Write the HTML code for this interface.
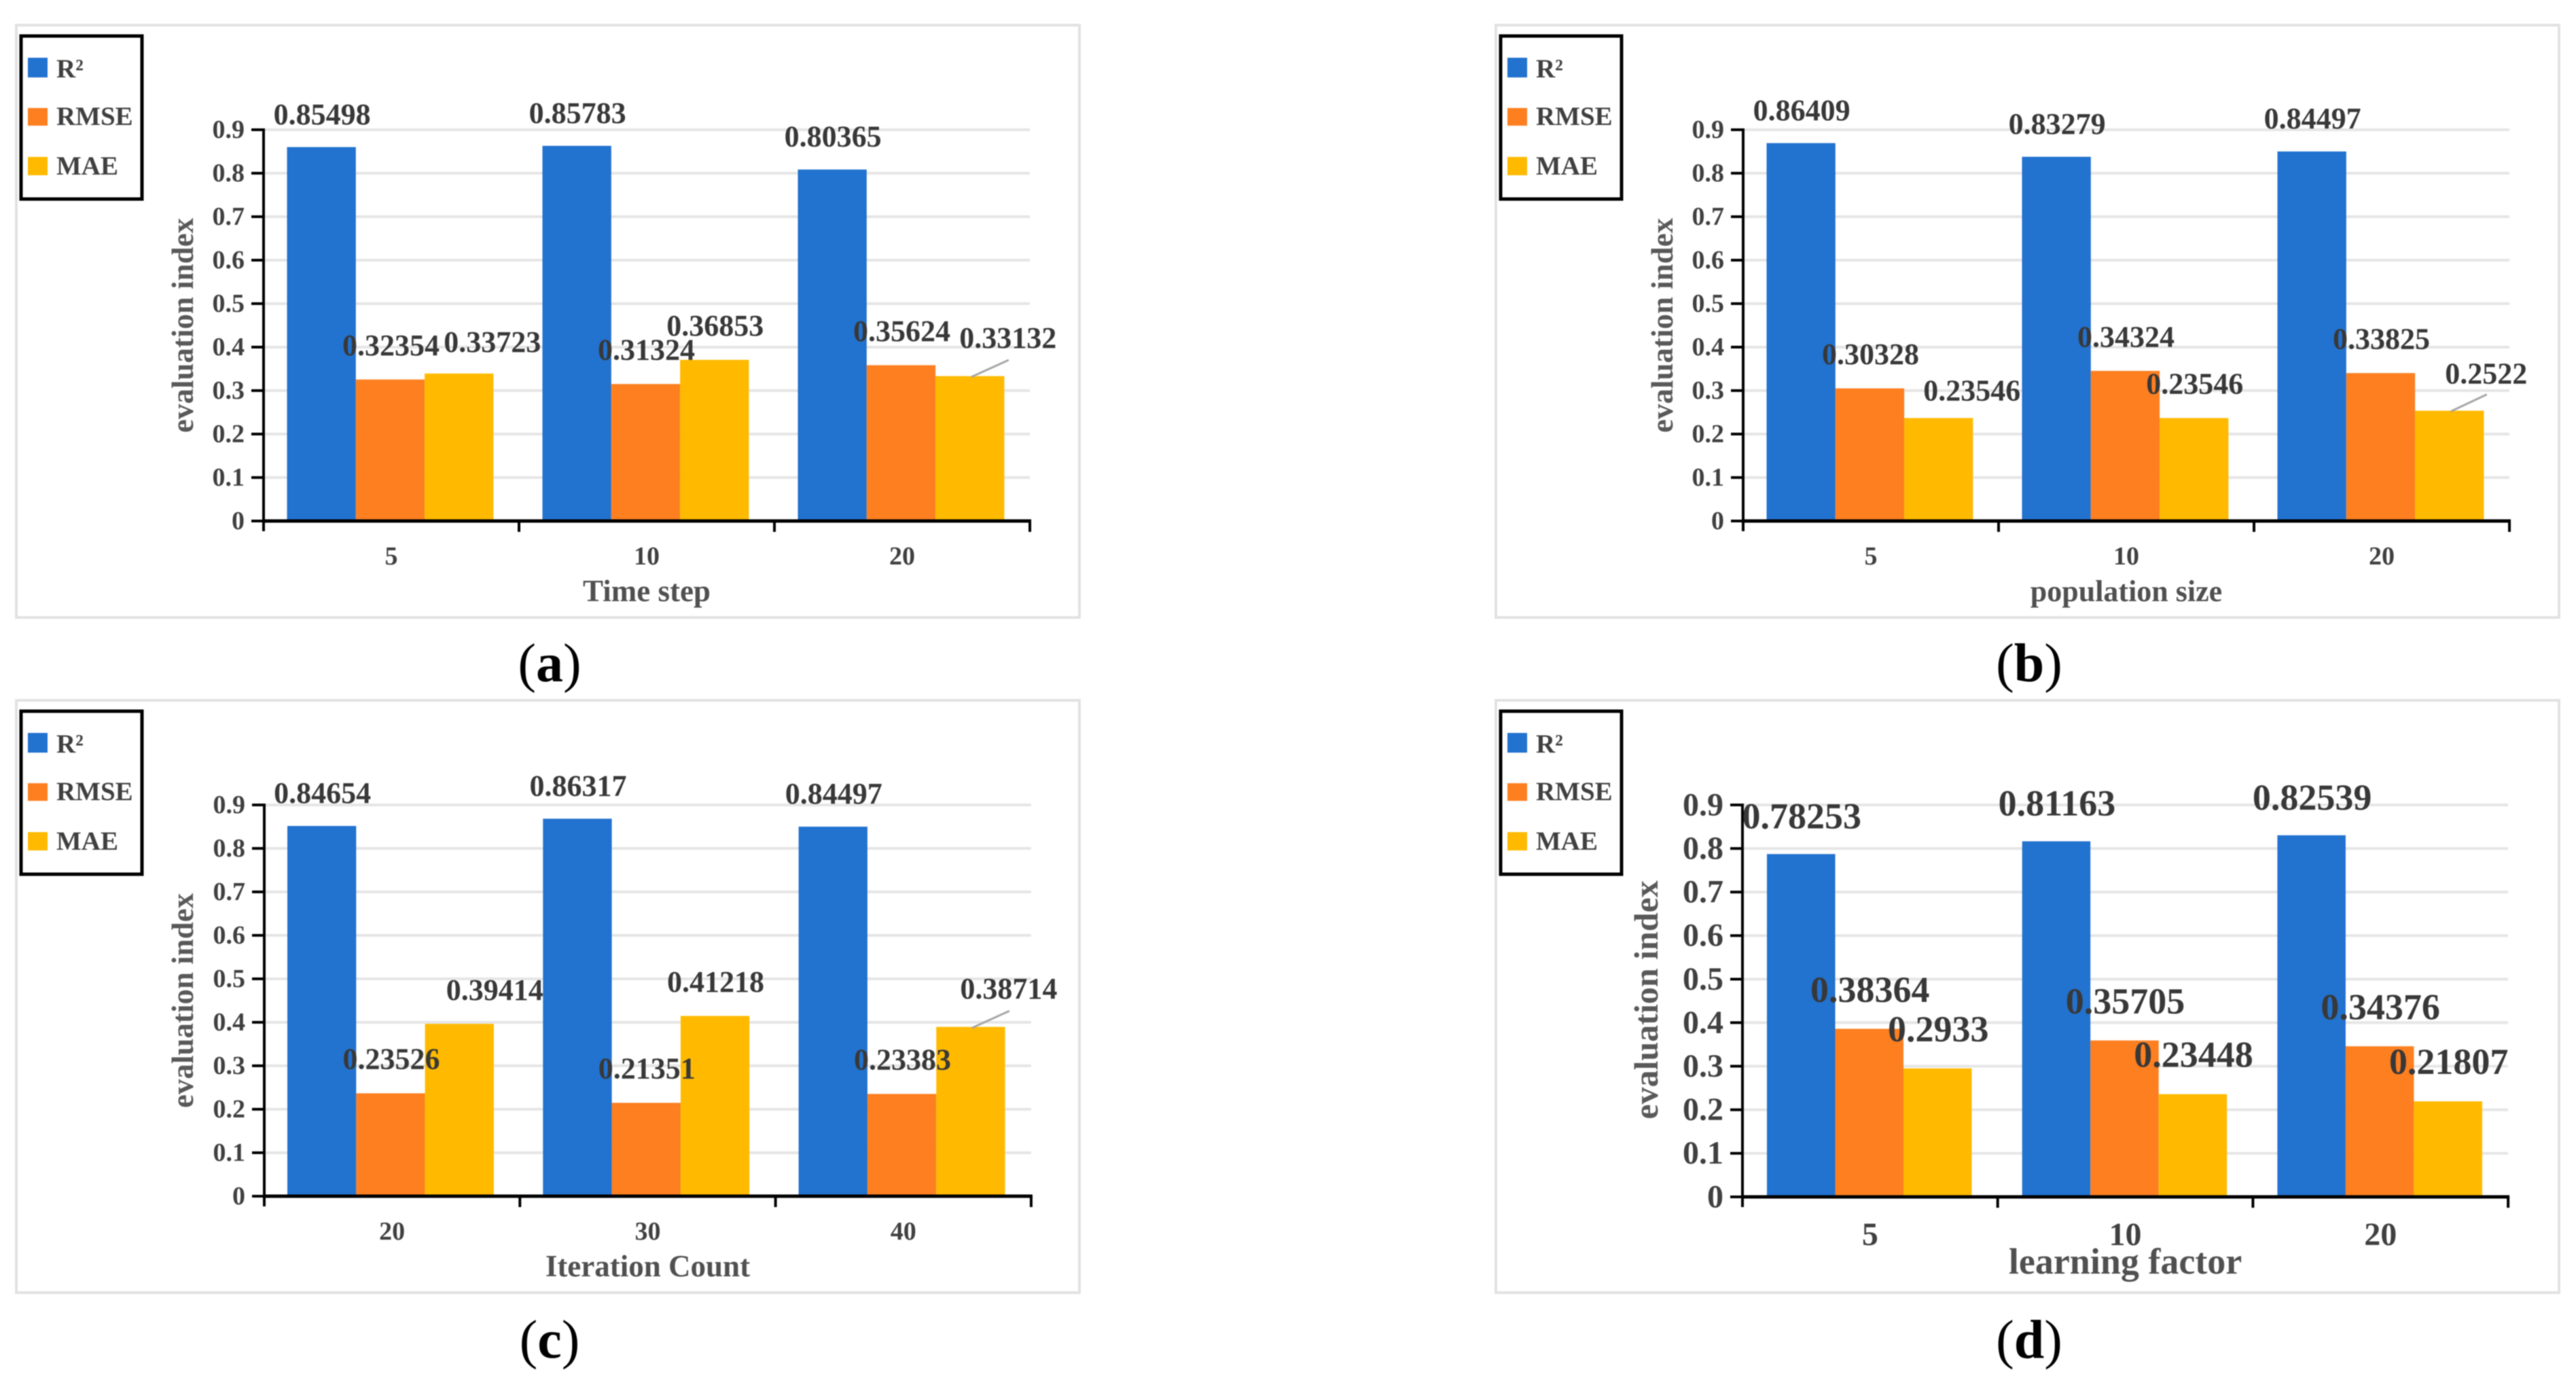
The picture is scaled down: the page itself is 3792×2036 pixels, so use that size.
<!DOCTYPE html>
<html lang="en">
<head>
<meta charset="utf-8">
<title>Evaluation index bar charts</title>
<style>
html,body{margin:0;padding:0;background:#fff;width:3792px;height:2036px;overflow:hidden}
svg{display:block;filter:blur(0.8px)}
text{font-family:"Liberation Serif",serif}
</style>
</head>
<body>
<svg id="figure" xmlns="http://www.w3.org/2000/svg" width="3792" height="2036" viewBox="0 0 3792 2036"></svg>
<script>
const seriesNames = ['R²', 'RMSE', 'MAE'];
const yTickLabels = ['0', '0.1', '0.2', '0.3', '0.4', '0.5', '0.6', '0.7', '0.8', '0.9'];
const yTickValues = [0, 0.1, 0.2, 0.3, 0.4, 0.5, 0.6, 0.7, 0.8, 0.9];

const categoriesA = ['5', '10', '20'];
const r2A = [0.85498, 0.85783, 0.80365];
const rmseA = [0.32354, 0.31324, 0.35624];
const maeA = [0.33723, 0.36853, 0.33132];

const categoriesB = ['5', '10', '20'];
const r2B = [0.86409, 0.83279, 0.84497];
const rmseB = [0.30328, 0.34324, 0.33825];
const maeB = [0.23546, 0.23546, 0.2522];

const categoriesC = ['20', '30', '40'];
const r2C = [0.84654, 0.86317, 0.84497];
const rmseC = [0.23526, 0.21351, 0.23383];
const maeC = [0.39414, 0.41218, 0.38714];

const categoriesD = ['5', '10', '20'];
const r2D = [0.78253, 0.81163, 0.82539];
const rmseD = [0.38364, 0.35705, 0.34376];
const maeD = [0.2933, 0.23448, 0.21807];

const colors = ['#2272cf', '#fd7f20', '#ffba00'];
const barStretch = 1.006;
const NS = 'http://www.w3.org/2000/svg';
const root = document.getElementById('figure');

function mk(tag, attrs, parent, txt) {
  const el = document.createElementNS(NS, tag);
  for (const k in attrs) el.setAttribute(k, attrs[k]);
  if (txt !== undefined) el.textContent = txt;
  parent.appendChild(el);
  return el;
}

const panels = [
  { key: 'a', caption: 'a', captionX: 809, captionY: 1003, ox: 0, oy: 0, frame: [24, 37, 1565, 872],
    categories: categoriesA, series: [r2A, rmseA, maeA], xTitle: 'Time step',
    x0: 388, y0: 767, y9: 191, catW: 376, barStart: 34.5, barW: 101.3,
    tickFs: 38, labelFs: 44, catFs: 38, titleFs: 45, yTitleFs: 45, catBase: 831, titleBase: 885, yTitleBase: 284, yTitleMid: 479, yTitleFill: '#595959', labelUp: 37,
    nudges: { '2,0': [48, 4], '2,2': [55, -6] }, leaders: ['2,2'] },
  { key: 'b', caption: 'b', captionX: 2987, captionY: 1003, ox: 2178, oy: 0, frame: [24, 37, 1565, 872],
    categories: categoriesB, series: [r2B, rmseB, maeB], xTitle: 'population size',
    x0: 388, y0: 767, y9: 191, catW: 376, barStart: 34.5, barW: 101.3,
    tickFs: 38, labelFs: 44, catFs: 38, titleFs: 44, yTitleFs: 45, catBase: 831, titleBase: 885, yTitleBase: 284, yTitleMid: 479, yTitleFill: '#595959', labelUp: 37,
    nudges: { '2,0': [48, 10], '2,2': [53, -4] }, leaders: ['2,2'] },
  { key: 'c', caption: 'c', captionX: 809, captionY: 1999, ox: 0, oy: 994, frame: [24, 37, 1565, 872],
    categories: categoriesC, series: [r2C, rmseC, maeC], xTitle: 'Iteration Count',
    x0: 389, y0: 767, y9: 191, catW: 376.3, barStart: 34, barW: 101.3,
    tickFs: 38, labelFs: 44, catFs: 38, titleFs: 45, yTitleFs: 45, catBase: 831, titleBase: 885, yTitleBase: 284, yTitleMid: 479, yTitleFill: '#595959', labelUp: 37,
    nudges: { '2,0': [51, 0], '2,2': [55, -6] }, leaders: ['2,2'] },
  { key: 'd', caption: 'd', captionX: 2987, captionY: 1999, ox: 2178, oy: 994, frame: [24, 37, 1565, 872],
    categories: categoriesD, series: [r2D, rmseD, maeD], xTitle: 'learning factor',
    x0: 387, y0: 768, y9: 191, catW: 375.7, barStart: 36, barW: 100.5,
    tickFs: 48, labelFs: 54, catFs: 48, titleFs: 54, yTitleFs: 50, catBase: 839, titleBase: 881, yTitleBase: 262, yTitleMid: 478, yTitleFill: '#595959', labelUp: 41,
    nudges: {}, leaders: [] }
];

function drawPanel(p) {
  const g = mk('g', { transform: 'translate(' + p.ox + ',' + p.oy + ')' }, root);
  
  

  const frame = mk('rect', { x: p.frame[0], y: p.frame[1], width: p.frame[2], height: p.frame[3], fill: '#fff', stroke: '#e2e2e2', 'stroke-width': 4 }, g);
  
  

  const yScale = v => p.y0 - (v / 0.9) * (p.y0 - p.y9);
  const barTop = v => p.y0 - (v / 0.9) * (p.y0 - p.y9) * barStretch;
  const xCat = i => p.x0 + i * p.catW;
  const xRight = xCat(p.categories.length);

  yTickValues.forEach((v, i) => {
    if (v > 0) {
      const grid = mk('line', { x1: p.x0, x2: xRight, y1: yScale(v), y2: yScale(v), stroke: '#e6e6e6', 'stroke-width': 4 }, g);
      
      
    }
    const tick = mk('line', { x1: p.x0 - 18, x2: p.x0, y1: yScale(v), y2: yScale(v), stroke: '#000', 'stroke-width': 4 }, g);
    
    
    const lab = mk('text', { x: p.x0 - 28, y: yScale(v) + p.tickFs * 0.32, 'text-anchor': 'end', 'font-size': p.tickFs, fill: '#404040', 'font-weight': 'bold' }, g, yTickLabels[i]);
    
    
  });

  p.series.forEach((vals, s) => {
    vals.forEach((v, c) => {
      const bx = xCat(c) + p.barStart + s * p.barW;
      const by = barTop(v);
      const bar = mk('rect', { x: bx, y: by, width: p.barW, height: p.y0 - by, fill: colors[s] }, g);
      
      
    });
  });

  const yAxis = mk('line', { x1: p.x0, x2: p.x0, y1: p.y9 - 2, y2: p.y0 + 15, stroke: '#000', 'stroke-width': 4 }, g);
  
  
  const xAxis = mk('line', { x1: p.x0, x2: xRight + 2, y1: p.y0, y2: p.y0, stroke: '#000', 'stroke-width': 5 }, g);
  
  

  for (let i = 1; i <= p.categories.length; i++) {
    const t = mk('line', { x1: xCat(i), x2: xCat(i), y1: p.y0, y2: p.y0 + 16, stroke: '#000', 'stroke-width': 4 }, g);
    
    
  }

  p.categories.forEach((name, c) => {
    const lab = mk('text', { x: xCat(c) + p.catW / 2, y: p.catBase, 'text-anchor': 'middle', 'font-size': p.catFs, 'font-weight': 'bold', fill: '#404040' }, g, name);
    
    
  });

  const xt = mk('text', { x: xCat(0) + p.catW * p.categories.length / 2, y: p.titleBase, 'text-anchor': 'middle', 'font-size': p.titleFs, 'font-weight': 'bold', fill: '#505050' }, g, p.xTitle);
  
  

  const yt = mk('text', { transform: 'translate(' + p.yTitleBase + ',' + p.yTitleMid + ') rotate(-90)', 'text-anchor': 'middle', 'font-size': p.yTitleFs, 'font-weight': 'bold', fill: p.yTitleFill }, g, 'evaluation index');
  
  

  p.series.forEach((vals, s) => {
    vals.forEach((v, c) => {
      const key = s + ',' + c;
      const n = p.nudges[key] || [0, 0];
      const cx = xCat(c) + p.barStart + (s + 0.5) * p.barW;
      const top = yScale(v);
      const lab = mk('text', { x: cx + n[0] + 1, y: top - p.labelUp + n[1], 'text-anchor': 'middle', 'font-size': p.labelFs, fill: '#383838', 'font-weight': 'bold' }, g, String(v));
      
      
      if (p.leaders.indexOf(key) >= 0) {
        const l = mk('line', { x1: cx + 2, y1: top, x2: cx + n[0] + 2, y2: top - 25, stroke: '#a6a6a6', 'stroke-width': 3 }, g);
        
        
      }
    });
  });

  const legend = mk('g', {}, g);
  
  
  const box = mk('rect', { x: 31, y: 53, width: 178, height: 240, fill: '#fff', stroke: '#000', 'stroke-width': 5 }, legend);
  
  
  const swatchTops = [85, 159, 231];
  const swatchHeights = [29, 26, 27];
  const textBases = [114, 184, 257];
  seriesNames.forEach((name, s) => {
    const sw = mk('rect', { x: 41, y: swatchTops[s], width: 29, height: swatchHeights[s], fill: colors[s] }, legend);
    
    
    const t = mk('text', { x: 83, y: textBases[s], 'font-size': 39, 'font-weight': 'bold', fill: '#404040' }, legend, name);
    
    
  });

  const cap = mk('text', { x: p.captionX, y: p.captionY, 'text-anchor': 'middle', 'font-size': 80, fill: '#000' }, root);
  
  
  mk('tspan', {}, cap, '(');
  mk('tspan', { 'font-weight': 'bold' }, cap, p.caption);
  mk('tspan', {}, cap, ')');
}

panels.forEach(drawPanel);
</script>
</body>
</html>
